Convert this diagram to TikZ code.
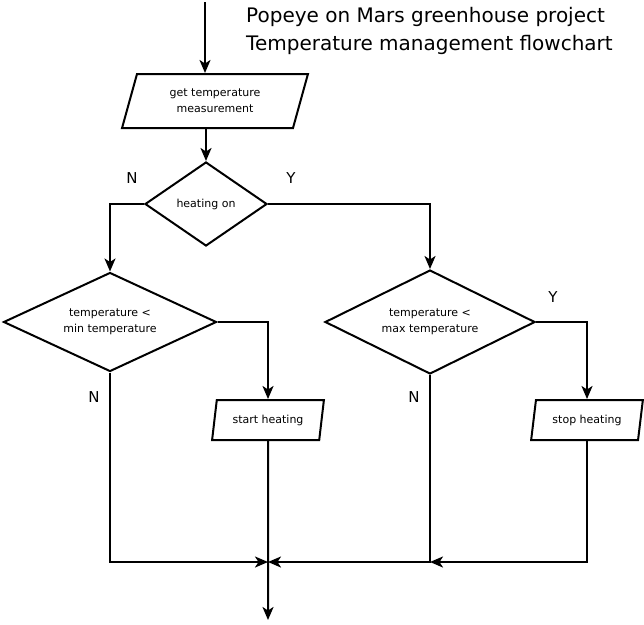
\documentclass[tikz,border=0pt]{standalone}
\usepackage{fontspec}
\setmainfont{DejaVu Sans}
\usetikzlibrary{shapes.geometric, arrows.meta}

\begin{document}
\begin{tikzpicture}[x=1pt, y=-1pt, line join=miter]

  % Styles
  \tikzset{
    io/.style={draw, line width=2pt, trapezium, trapezium left angle=73, trapezium right angle=107,
      trapezium stretches=true, inner sep=0pt, align=center,
      font=\fontsize{11}{16}\selectfont},
    decision/.style={draw, line width=2pt, diamond, inner sep=0pt, align=center,
      font=\fontsize{11}{16}\selectfont},
    arr/.style={-{Stealth[length=13pt, width=11pt, inset=3.5pt]}, line width=2pt},
    yn/.style={font=\fontsize{15}{15}\selectfont},
  }

  \useasboundingbox (0,0) rectangle (644,624);

  % Title
  \node[anchor=north west, inner sep=0pt, align=left, font=\fontsize{20}{28}\selectfont]
    (title) at (246,7) {Popeye on Mars greenhouse project\\Temperature management flowchart};

  % Boxes
  \coordinate (start) at (205,2);
  \node[io, trapezium left angle=70, trapezium right angle=110,
    minimum width=186, minimum height=54] (get) at (215,101) {get temperature\\measurement};
  \node[decision, aspect=1.45, minimum width=122, minimum height=84] (heat) at (206,204) {heating on};
  \node[decision, aspect=2.15, minimum width=213, minimum height=99] (mintest) at (110,322)
    {temperature <\\min temperature};
  \node[decision, aspect=2.02, minimum width=210, minimum height=104] (maxtest) at (430,322)
    {temperature <\\max temperature};
  \node[io, minimum width=112, minimum height=40] (on) at (268,420) {start heating};
  \node[io, minimum width=112, minimum height=40] (off) at (587,420) {stop heating};

  \coordinate (merge) at (268,562);
  \coordinate (finish) at (268,620);

  % Connectors
  \draw[arr] (start) -- (start |- get.north);
  \draw[arr] (heat.north |- get.south) -- (heat.north);
  \draw[arr] (heat.west) -| (mintest.north);
  \draw[arr] (heat.east) -| (maxtest.north);
  \draw[arr] (mintest.east) -| (on.north);
  \draw[arr] (maxtest.east) -| (off.north);
  \draw[arr] (mintest.south) |- (merge);
  \draw[arr] (maxtest.south) |- (merge);
  \draw[arr] (off.south) |- (maxtest.south |- merge);
  \draw[arr] (on.south) -- (finish);

  % Y / N labels
  \node[yn] (n1) at (132,178) {N};
  \node[yn] (y1) at (291,178) {Y};
  \node[yn] (n2) at (94,397) {N};
  \node[yn] (n3) at (414,397) {N};
  \node[yn] (y2) at (553,297) {Y};

\end{tikzpicture}
\end{document}
